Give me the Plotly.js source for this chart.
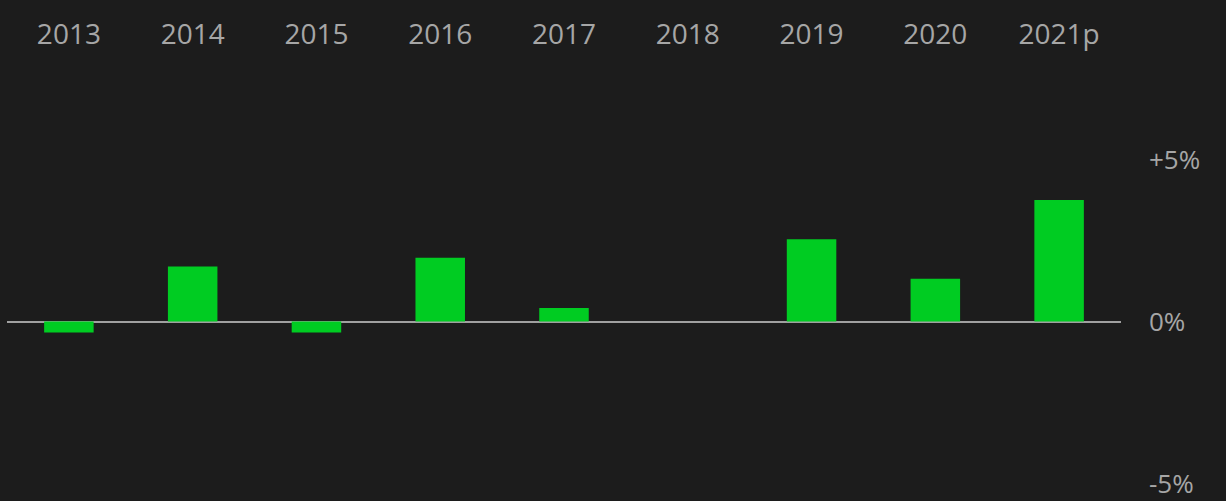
<!DOCTYPE html>
<html>
<head>
<meta charset="utf-8">
<script src="https://cdn.plot.ly/plotly-3.0.1.min.js"></script>
<style>
  html, body { margin: 0; padding: 0; background: #1c1c1c; }
  #chart { width: 1226px; height: 501px; }
</style>
</head>
<body>
<div id="chart"></div>
<script>
  // yearly change, percent
  var years = ['2013', '2014', '2015', '2016', '2017', '2018', '2019', '2020', '2021p'];
  var change = [-0.34, 1.70, -0.34, 1.97, 0.42, 0, 2.54, 1.32, 3.75];

  var tickVals = [-5, 0, 5];
  var tickText = ['-5%', '0%', '+5%'];

  var bars = {
    type: 'bar',
    x: years,
    y: change,
    marker: { color: '#00cc22' },
    hoverinfo: 'x+y'
  };

  var layout = {
    width: 1226,
    height: 501,
    margin: { l: 7, r: 105, t: 52, b: 13 },
    paper_bgcolor: '#1c1c1c',
    plot_bgcolor: '#1c1c1c',
    showlegend: false,
    bargap: 0.6,
    font: { family: 'Open Sans, sans-serif', size: 28, color: '#a6a6a6' },
    xaxis: {
      type: 'category',
      side: 'top',
      showgrid: false,
      showline: false,
      zeroline: false,
      ticks: '',
      ticklabelstandoff: 1
    },
    yaxis: {
      side: 'right',
      range: [-5.14, 8.32],
      tickvals: tickVals,
      ticktext: tickText,
      tickfont: { size: 26 },
      showgrid: false,
      showline: false,
      zeroline: true,
      zerolinecolor: '#a0a0a0',
      zerolinewidth: 2,
      ticks: '',
      ticklabelstandoff: 27,
      ticklabeloverflow: 'allow'
    }
  };

  Plotly.newPlot('chart', [bars], layout, { displayModeBar: false, staticPlot: true });
</script>
</body>
</html>
